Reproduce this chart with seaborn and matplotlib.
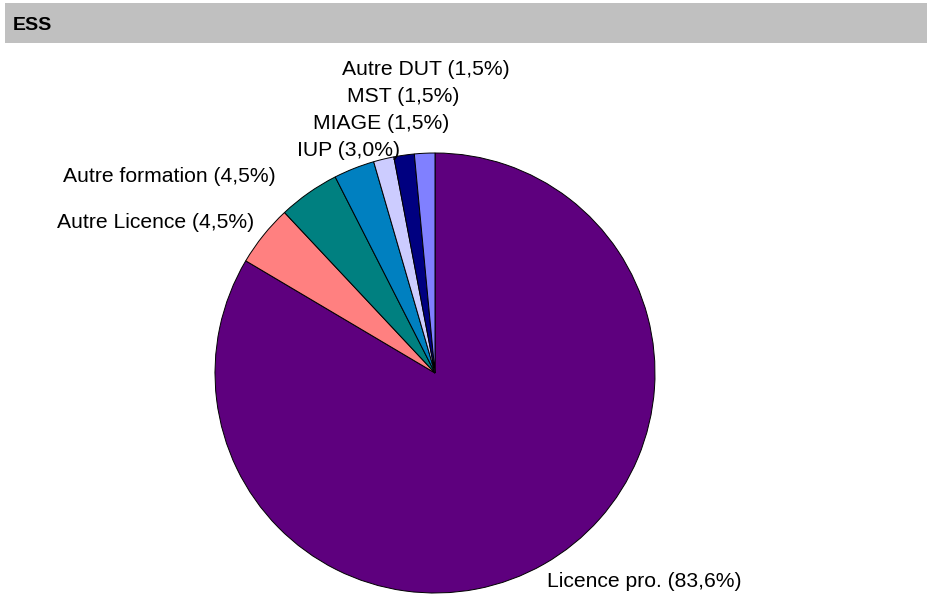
import numpy as np
import matplotlib
matplotlib.use("Agg")
import matplotlib.pyplot as plt
import seaborn as sns
from matplotlib.patches import Rectangle

sns.set_style("white")
plt.rcParams['font.family'] = ['Liberation Sans', 'DejaVu Sans']
plt.rcParams['text.color'] = 'black'

# données
categories = ["Licence pro.", "Autre Licence", "Autre formation", "IUP",
              "MIAGE", "MST", "Autre DUT"]
shares = [83.6, 4.5, 4.5, 3.0, 1.5, 1.5, 1.5]
labels = ["Licence pro. (83,6%)", "Autre Licence (4,5%)", "Autre formation (4,5%)",
          "IUP (3,0%)", "MIAGE (1,5%)", "MST (1,5%)", "Autre DUT (1,5%)"]
colors = ["#5E007E", "#FF8080", "#008080", "#0080C0", "#CCCCFF", "#000080", "#8080FF"]

W, H = 932, 598
fig = plt.figure(figsize=(W / 100, H / 100), dpi=100)
fig.patch.set_facecolor("white")

# bandeau du titre
fig.patches.append(Rectangle((5 / W, 1 - 43 / H), 922 / W, 40 / H,
                             transform=fig.transFigure, facecolor="#C0C0C0",
                             edgecolor="none", zorder=0))
fig.text(13 / W, 1 - 26 / H, "ESS", fontsize=14, fontweight="bold",
         family=["Liberation Sans Narrow", "Liberation Sans", "DejaVu Sans"],
         va="center", ha="left", color="black")

# axe en "pixels" (y vers le haut)
ax = fig.add_axes([0, 0, 1, 1])
cx, cy, R = 435, H - 373, 220
wedges, _ = ax.pie(shares, colors=colors, startangle=90, counterclock=False,
                   center=(cx, cy), radius=R, frame=True,
                   wedgeprops=dict(edgecolor="black", linewidth=0.7))
ax.set_xlim(0, W)
ax.set_ylim(0, H)
ax.set_aspect("equal")
ax.axis("off")

# étiquettes : position à partir de l'angle moyen de chaque part
fs = 15.2
rl = R * 1.09
prev_y = None
for i, (w, lab) in enumerate(zip(wedges, labels)):
    ang = np.deg2rad((w.theta1 + w.theta2) / 2)
    x = cx + rl * np.cos(ang)
    y = cy + rl * np.sin(ang)
    if i == 0:
        ax.text(x - 7, y, lab, ha="left", va="center", fontsize=fs)
    elif i in (1, 2):
        ax.text(x + (6 if i == 1 else -22), y, lab, ha="right", va="center", fontsize=fs)
    else:
        # petites parts empilées vers le haut
        if prev_y is not None:
            y = max(y, prev_y + 27)
        prev_y = y
        ax.text(x + 2, y, lab, ha="center", va="center", fontsize=fs)

fig.savefig("out.png", dpi=100)
